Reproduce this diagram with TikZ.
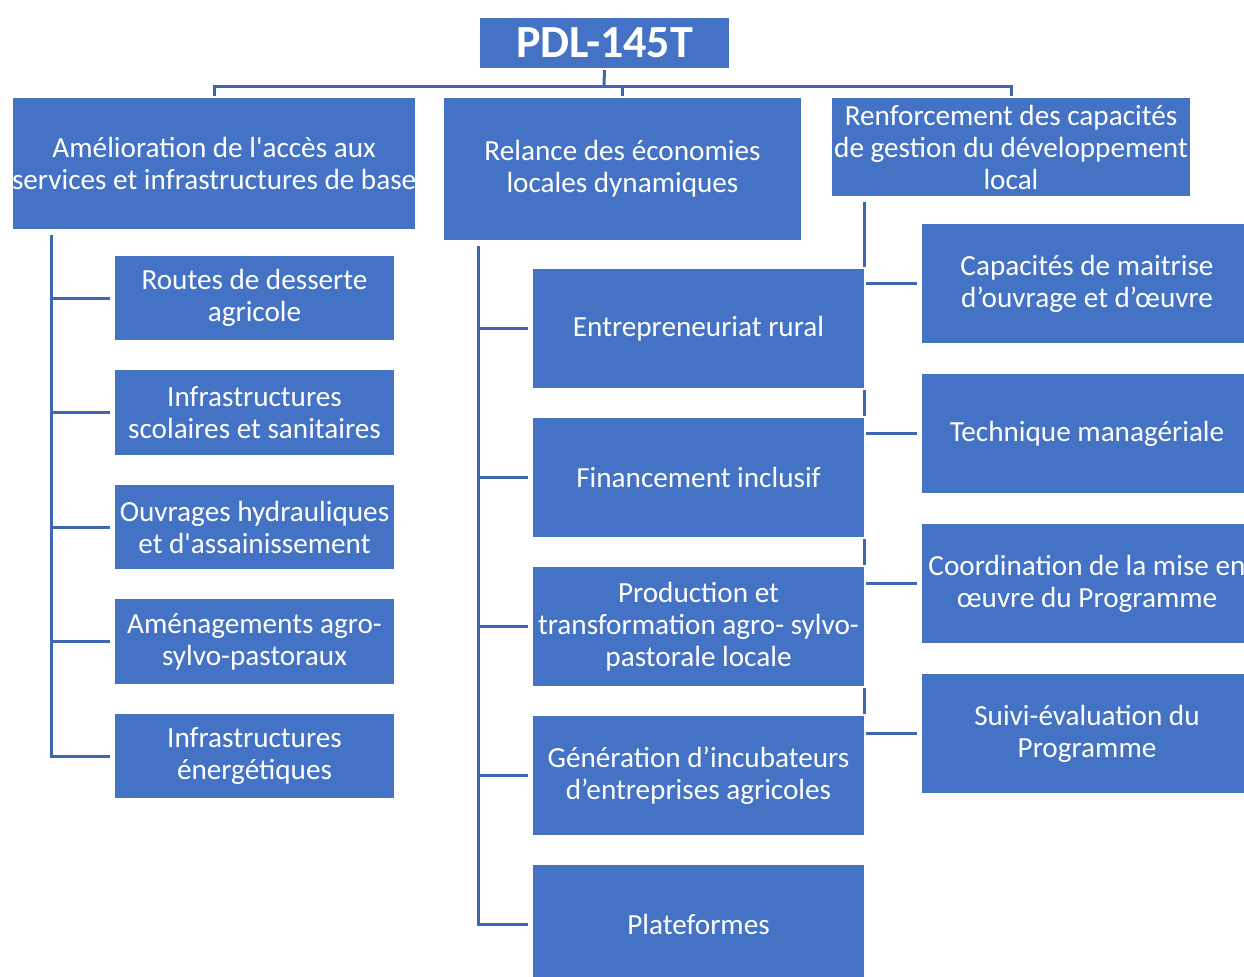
\documentclass[tikz,border=0pt]{standalone}
\usepackage{fontspec}
\setmainfont{Carlito}
\usetikzlibrary{positioning,backgrounds}
\definecolor{boxblue}{HTML}{4472C4}
\definecolor{linkblue}{HTML}{3F66B3}

\begin{document}
\begin{tikzpicture}[x=0.5pt,y=-0.5pt,node distance=14pt]
  \tikzstyle{box}=[fill=boxblue,draw=white,line width=0.8pt,text=white,align=center,inner sep=0pt,outer sep=0pt,anchor=north west,font=\fontsize{14.6}{16}\selectfont]
  \tikzstyle{leaf}=[box,minimum width=140.5pt,minimum height=43pt]
  \tikzstyle{action}=[box,minimum width=166.5pt,minimum height=60.5pt]
  \tikzstyle{capa}=[box,minimum width=166pt,minimum height=60.5pt]
  \tikzstyle{link}=[draw=linkblue,line width=1.5pt]
  \useasboundingbox (0,0) rectangle (1244,976);
  \clip (0,0) rectangle (1244,976);

  % programme et ses trois axes
  \node[box,minimum width=125.5pt,minimum height=26pt,font=\bfseries\fontsize{23}{26}\selectfont] (pdl) at (479,17) {PDL-145T};
  \node[box,minimum width=201pt,minimum height=66.5pt] (acces) at (12,97) {Amélioration de l\textquotesingle accès aux\\services et infrastructures de base};
  \node[box,minimum width=179.5pt,minimum height=72pt] (relance) at (443,97) {Relance des économies\\locales dynamiques};
  \node[box,minimum width=180pt,minimum height=50pt] (renfo) at (831,97) {Renforcement des capacités\\de gestion du développement\\local};

  % axe 1
  \node[leaf] (routes) at (114,255) {Routes de desserte\\agricole};
  \node[leaf,below=14.25pt of routes] (ecoles) {Infrastructures\\scolaires et sanitaires};
  \node[leaf,below=14.25pt of ecoles] (hydro) {Ouvrages hydrauliques\\et d\textquotesingle assainissement};
  \node[leaf,below=14.25pt of hydro] (amenag) {Aménagements agro-\\sylvo-pastoraux};
  \node[leaf,below=14.25pt of amenag] (energie) {Infrastructures\\énergétiques};

  % axe 2
  \node[action] (entre) at (532,268) {Entrepreneuriat rural};
  \node[action,below=of entre] (finance) {Financement inclusif};
  \node[action,below=of finance] (prod) {Production et\\transformation agro- sylvo-\\pastorale locale};
  \node[action,below=of prod] (incub) {Génération d’incubateurs\\d’entreprises agricoles};
  \node[action,below=of incub] (plate) {Plateformes};

  % axe 3
  \node[capa] (maitrise) at (921,223) {Capacités de maitrise\\d’ouvrage et d’œuvre};
  \node[capa,below=14.5pt of maitrise] (manage) {Technique managériale};
  \node[capa,below=14.5pt of manage] (coord) {Coordination de la mise en\\œuvre du Programme};
  \node[capa,below=14.5pt of coord] (suivi) {Suivi-évaluation du\\Programme};

  \begin{pgfonlayer}{background}
    \coordinate (bus) at (604,86);
    \draw[link] (pdl.south) -- (bus);
    \draw[link] (acces.north) |- (bus);
    \draw[link] (relance.north) |- (bus);
    \draw[link] (renfo.north) |- (bus);

    \coordinate (lspine) at (51,235);
    \foreach \n in {routes,ecoles,hydro,amenag,energie}
      \draw[link] (lspine) |- ([xshift=-2pt]\n.west);
    \coordinate (mspine) at (478,246);
    \foreach \n in {entre,finance,prod,incub,plate}
      \draw[link] (mspine) |- ([xshift=-2pt]\n.west);
    \coordinate (rspine) at (864,202);
    \foreach \n in {maitrise,manage,coord,suivi}
      \draw[link] (rspine) |- ([xshift=-2pt]\n.west);
  \end{pgfonlayer}
\end{tikzpicture}
\end{document}
